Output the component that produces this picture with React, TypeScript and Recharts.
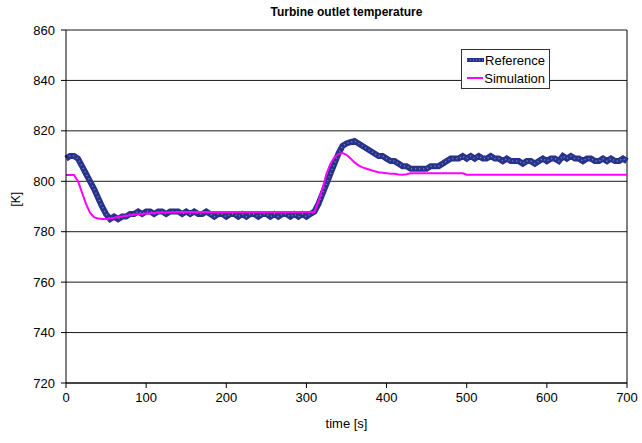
import { LineChart, Line, XAxis, YAxis, CartesianGrid, ReferenceLine } from 'recharts'

// time axis, 5 s steps
const time = Array.from({ length: 141 }, (_, i) => i * 5)

// measured outlet temperature [K]
const reference = [
  809, 810, 810, 809, 806, 803, 800, 797, 793.5, 790, 787, 785, 786, 785, 786, 786, 787, 787, 788, 787,
  788, 788, 787, 788, 788, 787, 788, 788, 788, 787, 788, 787, 788, 787, 787, 788, 787, 786, 787, 787,
  786, 787, 787, 786, 787, 786, 787, 787, 786, 787, 787, 786, 787, 786, 787, 787, 786, 787, 786, 787,
  786, 787, 788, 791, 795, 799, 803, 807, 811, 814, 815, 815.5, 816, 815, 814, 813, 812, 811, 810, 810,
  809, 808, 808, 807, 806, 806, 805, 805, 805, 805, 805, 806, 806, 806, 807, 808, 809, 809, 809, 810,
  809, 810, 809, 810, 809, 809, 810, 809, 809, 808, 809, 808, 808, 808, 807, 808, 808, 807, 808, 809,
  808, 809, 809, 808, 810, 809, 810, 809, 809, 808, 809, 809, 808, 808, 809, 808, 809, 808, 808, 809,
  808,
]

// simulated outlet temperature [K]
const simulation = [
  802.5, 802.5, 802.5, 800, 795.5, 791, 787.5, 785.8, 785.2, 785, 785, 785.2, 785.5, 785.8, 786, 786.3, 786.5, 786.7, 786.9, 787,
  787.2, 787.3, 787.4, 787.5, 787.6, 787.6, 787.7, 787.7, 787.8, 787.8, 787.8, 787.8, 787.8, 787.8, 787.8, 787.8, 787.8, 787.8, 787.8, 787.8,
  787.8, 787.8, 787.8, 787.8, 787.8, 787.8, 787.8, 787.8, 787.8, 787.8, 787.8, 787.8, 787.8, 787.8, 787.8, 787.8, 787.8, 787.8, 787.8, 787.8,
  787.8, 787.8, 787.8, 792, 797, 803, 807, 809.5, 810.8, 811.2, 810.5, 809, 807.5, 806.3, 805.5, 805, 804.5, 804, 803.6, 803.4,
  803.2, 803, 803, 802.7, 802.6, 802.8, 803.2, 803.2, 803.2, 803.2, 803.2, 803.2, 803.2, 803.2, 803.2, 803.2, 803.2, 803.2, 803.2, 803.2,
  802.6, 802.6, 802.6, 802.6, 802.6, 802.6, 802.6, 802.6, 802.6, 802.6, 802.6, 802.6, 802.6, 802.6, 802.6, 802.6, 802.6, 802.6, 802.6, 802.6,
  802.6, 802.6, 802.6, 802.6, 802.6, 802.6, 802.6, 802.6, 802.6, 802.6, 802.6, 802.6, 802.6, 802.6, 802.6, 802.6, 802.6, 802.6, 802.6, 802.6,
  802.6,
]

const xTicks = [0, 100, 200, 300, 400, 500, 600, 700]
const yTicks = [720, 740, 760, 780, 800, 820, 840, 860]

const data = time.map((t, i) => ({ t, reference: reference[i], simulation: simulation[i] }))

const font = '"Liberation Sans", Arial, sans-serif'
const NAVY = '#27338A'
const MAGENTA = '#FF00FF'

function LegendBox() {
  const row = (label: string, swatch: JSX.Element) => (
    <div style={{ display: 'flex', alignItems: 'center', height: 18 }}>
      <svg width={36} height={8}>{swatch}</svg>
      <span style={{ fontSize: 13, color: '#000', marginLeft: 1 }}>{label}</span>
    </div>
  )
  return (
    <div style={{ border: '1px solid #333', background: '#fff', padding: '1px 4px 1px 5px', fontFamily: font, width: 78 }}>
      {row('Reference', (
        <g>
          <line x1={0} y1={4} x2={36} y2={4} stroke={NAVY} strokeWidth={4} />
          <line x1={0} y1={4} x2={36} y2={4} stroke="#8088C4" strokeWidth={1} strokeDasharray="1 2" />
        </g>
      ))}
      {row('Simulation', <line x1={0} y1={4} x2={36} y2={4} stroke={MAGENTA} strokeWidth={2} />)}
    </div>
  )
}

export default function App() {
  // pinned to the page corner so the chart spans the whole 642 x 443 view
  return (
    <div style={{ position: 'absolute', left: 0, top: 0, width: 642, height: 443, fontFamily: font, overflow: 'hidden' }}>
      <div style={{ position: 'absolute', top: 5, left: 66, width: 561, textAlign: 'center', fontSize: 12, fontWeight: 'bold' }}>
        Turbine outlet temperature
      </div>
      <LineChart width={642} height={443} data={data} margin={{ top: 30, right: 15, bottom: 16, left: 8 }}>
        <CartesianGrid vertical={false} stroke="#000" strokeOpacity={0.9} />
        <XAxis
          dataKey="t"
          type="number"
          domain={[0, 700]}
          ticks={xTicks}
          height={44}
          stroke="#000"
          tickSize={5}
          tickMargin={5}
          tick={{ fontSize: 13, fill: '#000', fontFamily: font }}
          label={{ value: 'time [s]', position: 'insideBottom', offset: -1, fontSize: 13, fill: '#000', fontFamily: font }}
        />
        <YAxis
          domain={[720, 860]}
          ticks={yTicks}
          width={58}
          stroke="#000"
          tickSize={5}
          tickMargin={6}
          tick={{ fontSize: 13, fill: '#000', fontFamily: font }}
          label={{ value: '[K]', angle: -90, position: 'insideLeft', offset: 8, fontSize: 12, fill: '#000', fontFamily: font }}
        />
        <ReferenceLine x={700} stroke="#000" />
        <Line dataKey="reference" stroke={NAVY} strokeWidth={6} dot={false} isAnimationActive={false} />
        <Line dataKey="reference" stroke="#7C86C4" strokeWidth={1.5} strokeDasharray="1 3" dot={false} isAnimationActive={false} />
        <Line dataKey="simulation" stroke={MAGENTA} strokeWidth={2} dot={false} isAnimationActive={false} />
      </LineChart>
      <div style={{ position: 'absolute', top: 49, left: 461 }}>
        <LegendBox />
      </div>
    </div>
  )
}
